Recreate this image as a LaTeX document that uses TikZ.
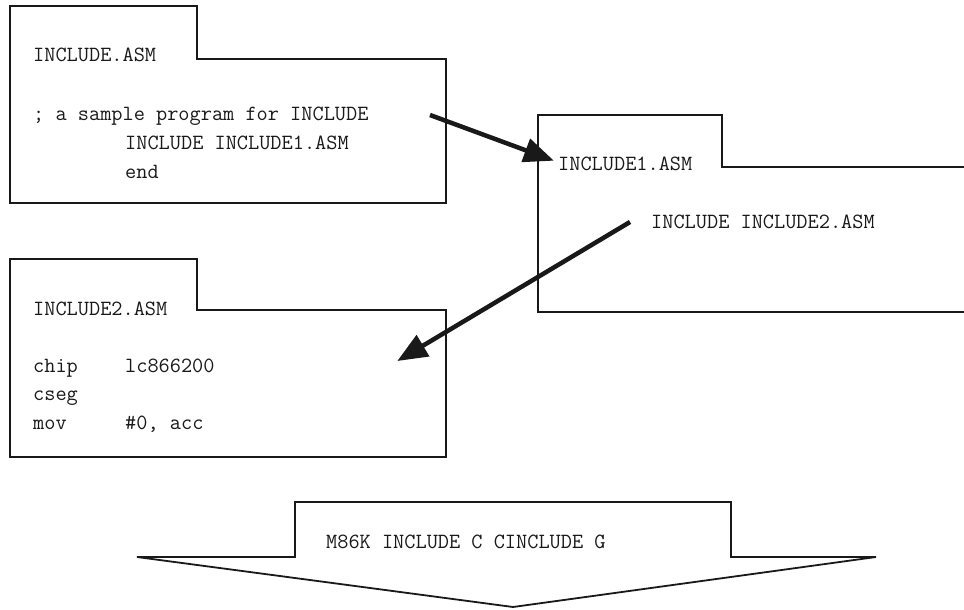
\documentclass[tikz,border=0pt]{standalone}
\usepackage{fontspec}
\usetikzlibrary{arrows.meta}
\begin{document}
\begin{tikzpicture}[x=1pt,y=-1pt,
  frame/.style={draw=black!90, line width=1.8pt, line join=miter},
  code/.style={anchor=base west, inner sep=0pt, font=\ttfamily\fontsize{21.7}{24}\selectfont, text=black!90},
  bigarrow/.style={draw=black!90, line width=4.5pt, -{Triangle[length=30pt,width=24pt]}, shorten >=-2pt}]
\useasboundingbox (0,0) rectangle (964,610);
% box INCLUDE.ASM
\draw[frame] (10,6) -- (197,6) -- (197,59) -- (446,59) -- (446,203) -- (10,203) -- cycle;
\node[code] (t1) at (33,62) {INCLUDE.ASM};
\node[code] (t2) at (33,120) {; a sample program for INCLUDE};
\node[code] (t3) at (125,149) {INCLUDE INCLUDE1.ASM};
\node[code] (t4) at (125,178) {end};
% box INCLUDE1.ASM (open to the right)
\draw[frame] (964,167) -- (722,167) -- (722,115) -- (538,115) -- (538,312) -- (964,312);
\node[code] (u1) at (558,170) {INCLUDE1.ASM};
\node[code] (u2) at (651,228) {INCLUDE INCLUDE2.ASM};
% box INCLUDE2.ASM
\draw[frame] (10,259) -- (197,259) -- (197,310) -- (446,310) -- (446,457) -- (10,457) -- cycle;
\node[code] (v1) at (33,315) {INCLUDE2.ASM};
\node[code] (v2) at (33,372) {chip};
\node[code] (v3) at (125,372) {lc866200};
\node[code] (v4) at (33,400) {cseg};
\node[code] (v5) at (33,429) {mov};
\node[code] (v6) at (125,429) {\#0, acc};
% bottom big arrow
\draw[frame] (137,557) -- (295,557) -- (295,502) -- (731,502) -- (731,557) -- (876,557) -- (513,607) -- cycle;
\node[code] (w1) at (326,548) {M86K INCLUDE C CINCLUDE G};
% connectors
\coordinate (a1s) at (430,115);
\coordinate (a1e) at (552,160);
\coordinate (a2s) at (630,222);
\coordinate (a2e) at (399,360);
\draw[bigarrow] (a1s) -- (a1e);
\draw[bigarrow] (a2s) -- (a2e);
\end{tikzpicture}
\end{document}
